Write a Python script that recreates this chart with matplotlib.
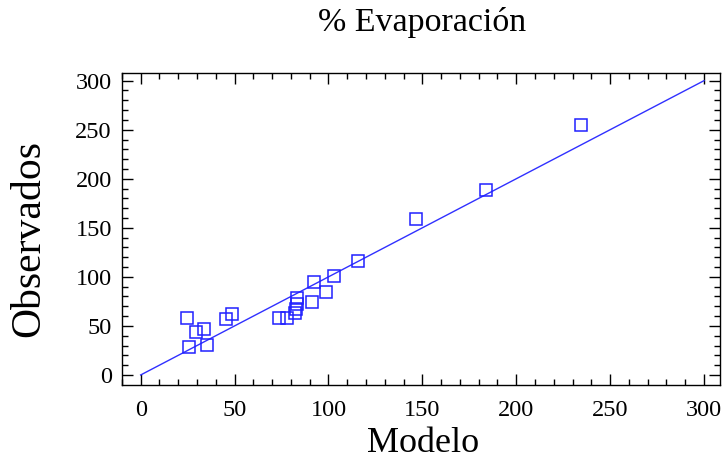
import matplotlib
matplotlib.use('Agg')
import matplotlib.pyplot as plt
from matplotlib.ticker import MultipleLocator

# valores (Modelo vs Observados)
modelo = [24.5, 25.5, 29.5, 33.5, 35.5, 45.5, 48.5, 73.5, 78, 82, 82.5, 83, 83.5,
          91.5, 92.5, 98.5, 103, 115.5, 146.5, 184, 234.5]
observados = [58, 28.5, 44, 47, 31, 57, 62, 58.5, 58.5, 63.5, 67, 72, 78,
              74, 95, 85, 101, 116, 159, 189, 255]
linea_x = [0, 300]
linea_y = [0, 300]

plt.rcParams.update({
    "font.family": ["Liberation Serif", "DejaVu Serif"],
})

W, H = 726, 466
left, right, top, bottom = 121.5, 720, 73, 384.5
fig = plt.figure(figsize=(W / 100, H / 100), dpi=100)
ax = fig.add_axes([left / W, 1 - bottom / H, (right - left) / W, (bottom - top) / H])
ah = bottom - top
aw = right - left

ax.plot(linea_x, linea_y, color='#3030ff', lw=1.0)
ax.plot(modelo, observados, ls='none', marker='s', ms=8.3, mfc='none',
        mec='#2020ff', mew=1.1)

ax.set_xlim(-10.2, 308.5)
ax.set_ylim(-9.7, 307.8)
ax.xaxis.set_major_locator(MultipleLocator(50))
ax.yaxis.set_major_locator(MultipleLocator(50))
ax.xaxis.set_minor_locator(MultipleLocator(10))
ax.yaxis.set_minor_locator(MultipleLocator(10))
ax.tick_params(which='both', direction='in', top=True, right=True,
               labelsize=17.5, width=1.0, color='black')
ax.tick_params(which='major', length=8)
ax.tick_params(which='minor', length=4)
ax.tick_params(axis='x', which='major', pad=11)
ax.tick_params(axis='y', which='major', pad=7)
for s in ax.spines.values():
    s.set_linewidth(1.0)

ax.set_xlabel('Modelo', fontsize=26, va='center')
ax.xaxis.set_label_coords((423 - left) / aw, (bottom - 443) / ah)
ax.set_ylabel('Observados', fontsize=30, va='center')
ax.yaxis.set_label_coords((29 - left) / aw, (bottom - 238.5) / ah)
ax.set_title('% Evaporación', fontsize=24.5, x=(422.5 - left) / aw,
             y=(bottom - 22) / ah, va='center', pad=0)

plt.savefig('out.png', dpi=100, facecolor='white')
plt.close()
